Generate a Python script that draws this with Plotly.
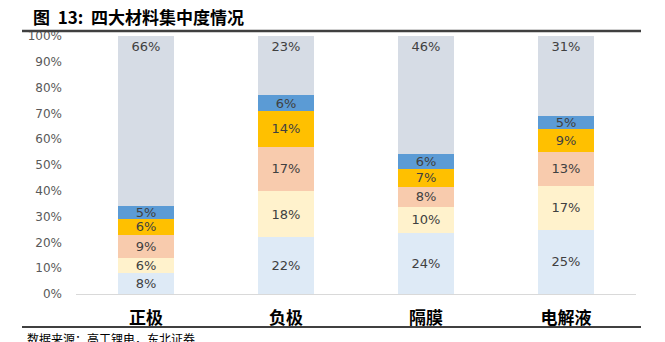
import plotly.graph_objects as go

# Market share of the leading suppliers in four battery materials
categories = ["正极", "负极", "隔膜", "电解液"]
series_names = ["第一名", "第二名", "第三名", "第四名", "第五名", "其他"]
top1 = [8, 22, 24, 25]
top2 = [6, 18, 10, 17]
top3 = [9, 17, 8, 13]
top4 = [6, 14, 7, 9]
top5 = [5, 6, 6, 5]
others = [66, 23, 46, 31]
y_ticks = [0, 0.1, 0.2, 0.3, 0.4, 0.5, 0.6, 0.7, 0.8, 0.9, 1.0]

series_values = [top1, top2, top3, top4, top5, others]
colors = ["#DEEAF6", "#FFF2CC", "#F8CBAD", "#FFC000", "#5B9BD5", "#D6DCE5"]

fig = go.Figure()
for i, (name, vals, col) in enumerate(zip(series_names, series_values, colors)):
    fig.add_trace(go.Bar(
        name=name,
        x=categories,
        y=vals,
        marker=dict(color=col, line=dict(width=0)),
        text=[f"{v}%" for v in vals],
        texttemplate="%{text}",
        textposition="inside",
        insidetextanchor="end" if i == len(series_values) - 1 else "middle",
        textfont=dict(family="DejaVu Sans", size=13, color="#404040"),
        showlegend=False,
    ))

fig.update_layout(
    barmode="stack",
    barnorm="fraction",
    bargap=0.6,
    width=665,
    height=342,
    margin=dict(l=76, r=29, t=36, b=48),
    paper_bgcolor="white",
    plot_bgcolor="white",
    uniformtext=dict(minsize=13, mode="show"),
    title=dict(
        text="图  13:  四大材料集中度情况",
        x=33 / 665, xanchor="left",
        y=1 - 18 / 342, yanchor="middle",
        font=dict(family="Noto Sans CJK SC", size=17, color="#000000", weight="bold"),
    ),
    xaxis=dict(
        showgrid=False,
        showline=True,
        linecolor="#D9D9D9",
        linewidth=1,
        ticks="",
        ticklabelstandoff=9,
        tickfont=dict(family="Noto Sans CJK SC", size=17, color="#000000", weight="bold"),
    ),
    yaxis=dict(
        range=[0, 1],
        tickvals=y_ticks,
        tickformat=".0%",
        showgrid=False,
        zeroline=False,
        showline=False,
        ticks="",
        ticklabelstandoff=13,
        tickfont=dict(family="DejaVu Sans", size=12, color="#595959"),
    ),
    shapes=[
        dict(type="line", xref="paper", yref="paper",
             x0=(22 - 76) / 560, x1=(641 - 76) / 560,
             y0=(294 - 31) / 258, y1=(294 - 31) / 258,
             line=dict(color="#404040", width=2.5)),
        dict(type="line", xref="paper", yref="paper",
             x0=(22 - 76) / 560, x1=(641 - 76) / 560,
             y0=(294 - 327) / 258, y1=(294 - 327) / 258,
             line=dict(color="#000000", width=1.5)),
    ],
    annotations=[
        dict(text="数据来源：高工锂电，东北证券",
             xref="paper", yref="paper",
             x=(25 - 76) / 560, xanchor="left",
             y=(294 - 338) / 258, yanchor="middle",
             showarrow=False,
             font=dict(family="Noto Sans CJK SC", size=12, color="#000000")),
    ],
)

fig.write_html("out.html")
